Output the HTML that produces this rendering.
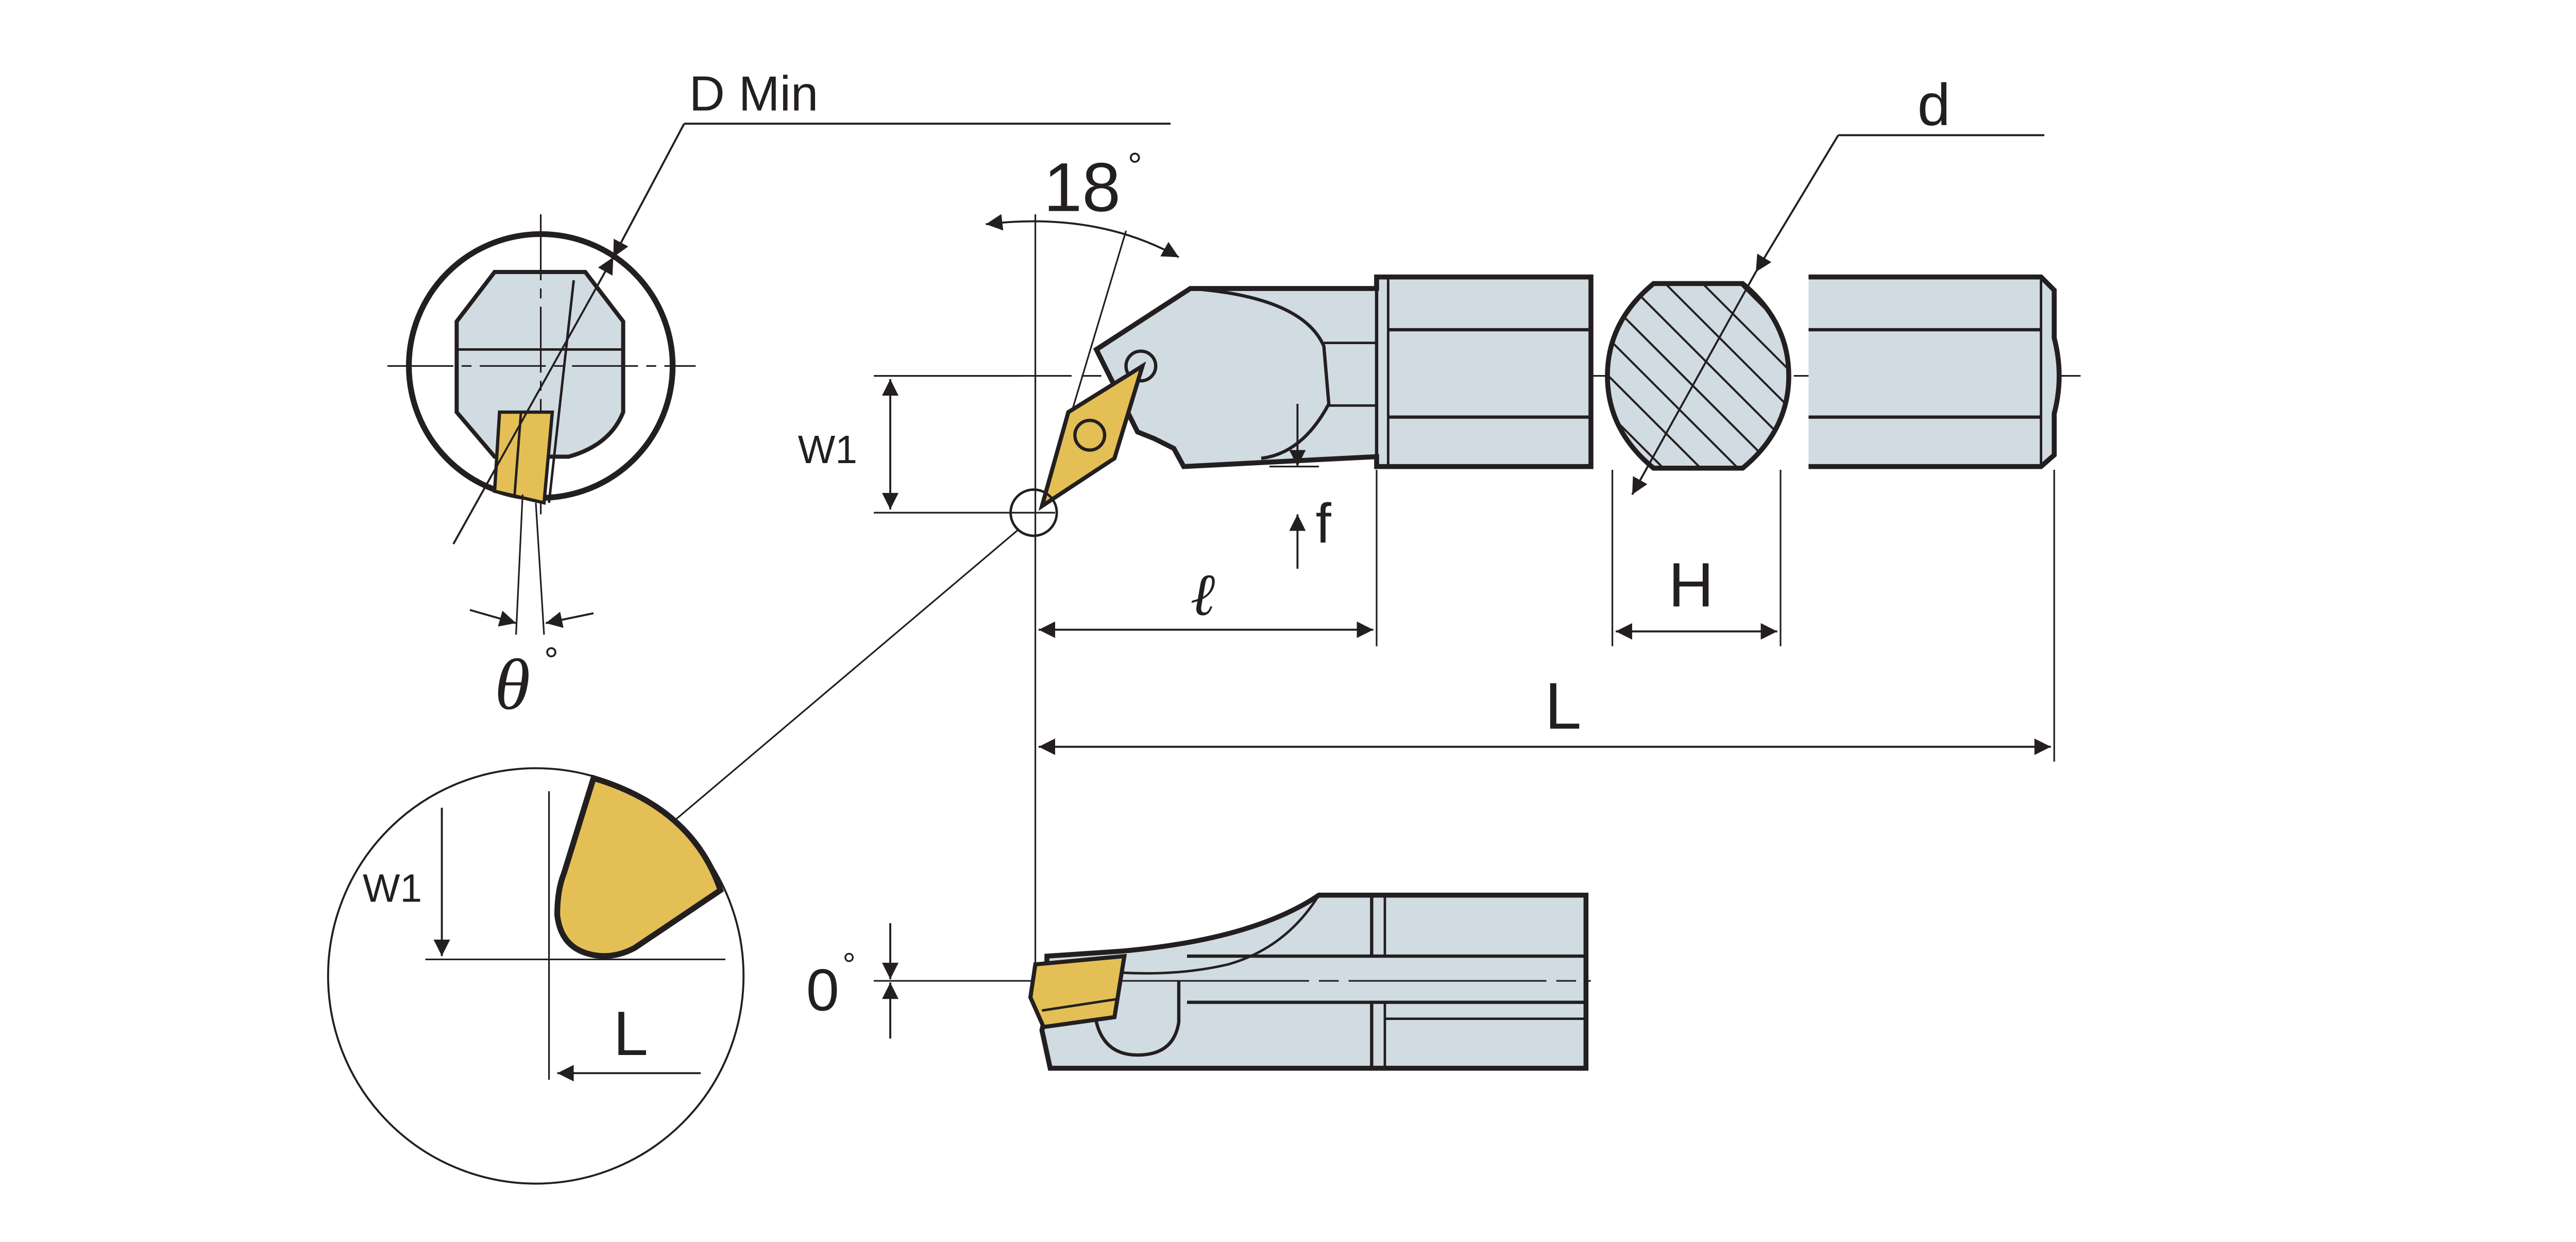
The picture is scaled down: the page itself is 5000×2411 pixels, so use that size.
<!DOCTYPE html>
<html><head><meta charset="utf-8"><style>
html,body{margin:0;padding:0;background:#fff}
svg{display:block}
text{font-family:"Liberation Sans",sans-serif;fill:#231f20}
</style></head><body>
<svg width="5000" height="2411" viewBox="0 0 1562.5 753.4" xmlns="http://www.w3.org/2000/svg">
<defs>
<marker id="a" viewBox="0 0 10 10" refX="10" refY="5" markerWidth="18" markerHeight="10" markerUnits="userSpaceOnUse" orient="auto-start-reverse"><path d="M0,0 L10,5 L0,10z" fill="#231f20"/></marker>
<pattern id="h" width="16" height="16" patternUnits="userSpaceOnUse" patternTransform="rotate(-45)"><rect width="16" height="16" fill="#d1dbe2"/><line x1="0" y1="0" x2="0" y2="16" stroke="#231f20" stroke-width="2.5"/></pattern>
</defs>
<g stroke="#231f20" fill="none">
<line x1="415" y1="75" x2="710" y2="75" stroke-width="1.2"/>
<line x1="415" y1="75" x2="372" y2="156" stroke-width="1.2" marker-end="url(#a)"/>
<circle cx="328" cy="222" r="80" stroke-width="3.5" fill="#fff"/>
<path d="M300,165 L355,165 L378,195 L378,250 Q370,270 345,277 L300,277 L277,250 L277,195z" fill="#d1dbe2" stroke-width="2.5"/>
<line x1="277" y1="212" x2="378" y2="212" stroke-width="1.5"/>
<line x1="235" y1="222" x2="422" y2="222" stroke-width="1" stroke-dasharray="40,5,6,5"/>
<line x1="328" y1="130" x2="328" y2="312" stroke-width="1" stroke-dasharray="40,5,6,5"/>
<path d="M303,250 L335,250 L330,305 L300,298z" fill="#e4bf55" stroke-width="2"/>
<line x1="316" y1="250" x2="312" y2="302" stroke-width="1.5"/>
<line x1="348" y1="170" x2="333" y2="305" stroke-width="1.5"/>
<line x1="372" y1="156" x2="275" y2="330" stroke-width="1.2" marker-start="url(#a)"/>
<line x1="317" y1="300" x2="313" y2="385" stroke-width="1"/>
<line x1="325" y1="305" x2="330" y2="385" stroke-width="1"/>
<line x1="285" y1="370" x2="313" y2="378" stroke-width="1.2" marker-end="url(#a)"/>
<line x1="360" y1="372" x2="331" y2="378" stroke-width="1.2" marker-end="url(#a)"/>
<line x1="530" y1="228" x2="1262" y2="228" stroke-width="1" stroke-dasharray="120,6,12,6"/>
<path d="M665,212 L722,175 L835,175 L835,168 L965,168 L965,283 L835,283 L835,277 L718,283 L712,272 L700,266 L690,262 Z" fill="#d1dbe2" stroke-width="3"/>
<path d="M722,175 Q790,180 803,210 L806,245 Q790,275 765,278" stroke-width="2"/>
<line x1="835" y1="175" x2="835" y2="283" stroke-width="2"/>
<line x1="842" y1="168" x2="842" y2="283" stroke-width="1.5"/>
<line x1="803" y1="208" x2="835" y2="208" stroke-width="1.5"/>
<line x1="842" y1="200" x2="965" y2="200" stroke-width="2"/>
<line x1="806" y1="246" x2="835" y2="246" stroke-width="1.5"/>
<line x1="842" y1="253" x2="965" y2="253" stroke-width="2"/>
<circle cx="692" cy="222" r="9" stroke-width="2" fill="#d1dbe2"/>
<path d="M693,222 L676,278 L632,307 L648,250z" fill="#e4bf55" stroke-width="2.5"/>
<circle cx="661" cy="264" r="9" stroke-width="2"/>
<circle cx="627" cy="311" r="14" stroke-width="1.5"/>
<path d="M1003,172 L1057,172 Q1085,195 1085,228 Q1085,261 1057,284 L1003,284 Q975,261 975,228 Q975,195 1003,172z" fill="url(#h)" stroke-width="3"/>
<line x1="1115" y1="82" x2="1240" y2="82" stroke-width="1.2"/>
<line x1="1115" y1="82" x2="1065" y2="165" stroke-width="1.2" marker-end="url(#a)"/>
<line x1="1065" y1="165" x2="990" y2="300" stroke-width="1.2" marker-end="url(#a)"/>
<path d="M1097,168 L1238,168 L1246,176 L1246,205 Q1252,228 1246,251 L1246,276 L1238,283 L1097,283" fill="#d1dbe2" stroke-width="3"/>
<line x1="1238" y1="168" x2="1238" y2="283" stroke-width="1.5"/>
<line x1="1097" y1="200" x2="1238" y2="200" stroke-width="2"/>
<line x1="1097" y1="253" x2="1238" y2="253" stroke-width="2"/>
<line x1="530" y1="228" x2="620" y2="228" stroke-width="1"/>
<line x1="530" y1="311" x2="640" y2="311" stroke-width="1"/>
<line x1="540" y1="230" x2="540" y2="309" stroke-width="1.2" marker-start="url(#a)" marker-end="url(#a)"/>
<line x1="628" y1="130" x2="628" y2="600" stroke-width="1"/>
<line x1="835" y1="285" x2="835" y2="392" stroke-width="1"/>
<line x1="978" y1="285" x2="978" y2="392" stroke-width="1"/>
<line x1="1080" y1="285" x2="1080" y2="392" stroke-width="1"/>
<line x1="1246" y1="285" x2="1246" y2="462" stroke-width="1"/>
<line x1="787" y1="245" x2="787" y2="283" stroke-width="1.2" marker-end="url(#a)"/>
<line x1="787" y1="345" x2="787" y2="312" stroke-width="1.2" marker-end="url(#a)"/>
<line x1="770" y1="283" x2="800" y2="283" stroke-width="1"/>
<line x1="630" y1="382" x2="833" y2="382" stroke-width="1.2" marker-start="url(#a)" marker-end="url(#a)"/>
<line x1="980" y1="383" x2="1078" y2="383" stroke-width="1.2" marker-start="url(#a)" marker-end="url(#a)"/>
<line x1="630" y1="453" x2="1244" y2="453" stroke-width="1.2" marker-start="url(#a)" marker-end="url(#a)"/>
<path d="M598,136 Q665,128 715,156" stroke-width="1.2" marker-start="url(#a)" marker-end="url(#a)"/>
<line x1="683" y1="140" x2="650" y2="250" stroke-width="1"/>
<line x1="410" y1="497" x2="618" y2="321" stroke-width="1"/>
<circle cx="325" cy="592" r="126" stroke-width="1.2" fill="#fff"/>
<path d="M360,472 Q420,490 437,540 L385,575 Q370,583 355,578 Q340,573 338,555 Q338,540 342,530z" fill="#e4bf55" stroke-width="3.5"/>
<line x1="258" y1="582" x2="440" y2="582" stroke-width="1"/>
<line x1="333" y1="480" x2="333" y2="655" stroke-width="1"/>
<line x1="268" y1="490" x2="268" y2="580" stroke-width="1.2" marker-end="url(#a)"/>
<line x1="425" y1="651" x2="338" y2="651" stroke-width="1.2" marker-end="url(#a)"/>
<path d="M635,580 L680,577 Q760,570 800,543 L962,543 L962,648 L637,648 L632,625 L635,612z" fill="#d1dbe2" stroke-width="3"/>
<path d="M800,543 Q780,575 745,585 Q715,592 680,590" stroke-width="1.5"/>
<line x1="832" y1="543" x2="832" y2="580" stroke-width="2"/>
<line x1="840" y1="543" x2="840" y2="580" stroke-width="1.5"/>
<line x1="832" y1="608" x2="832" y2="648" stroke-width="2"/>
<line x1="840" y1="608" x2="840" y2="648" stroke-width="1.5"/>
<line x1="720" y1="580" x2="962" y2="580" stroke-width="2"/>
<line x1="720" y1="608" x2="962" y2="608" stroke-width="2"/>
<line x1="840" y1="618" x2="962" y2="618" stroke-width="1.5"/>
<path d="M665,600 L665,620 Q670,640 690,640 Q712,640 715,620 L715,595" stroke-width="2"/>
<line x1="530" y1="595" x2="965" y2="595" stroke-width="1" stroke-dasharray="120,6,12,6"/>
<path d="M628,585 L682,580 L676,617 L633,623 L625,605z" fill="#e4bf55" stroke-width="2.5"/>
<line x1="632" y1="613" x2="678" y2="606" stroke-width="1.5"/>
<line x1="540" y1="560" x2="540" y2="594" stroke-width="1.2" marker-end="url(#a)"/>
<line x1="540" y1="630" x2="540" y2="596" stroke-width="1.2" marker-end="url(#a)"/>
</g>
<text x="418" y="67" font-size="30">D Min</text>
<text x="633" y="128" font-size="42">18</text><text x="684" y="108" font-size="22">°</text>
<text x="1163" y="76" font-size="36">d</text>
<text x="484" y="281" font-size="24">W1</text>
<text x="798" y="329" font-size="34">f</text>
<text x="722" y="373" font-size="36" font-style="italic" style="font-family:'Liberation Serif',serif">ℓ</text>
<text x="1012" y="368" font-size="38">H</text>
<text x="937" y="442" font-size="40">L</text>
<text x="300" y="430" font-size="44" font-style="italic" style="font-family:'Liberation Serif',serif">θ</text><text x="330" y="408" font-size="22">°</text>
<text x="220" y="547" font-size="24">W1</text>
<text x="372" y="640" font-size="38">L</text>
<text x="489" y="613" font-size="36">0</text><text x="511" y="592" font-size="20">°</text>
</svg>
</body></html>
